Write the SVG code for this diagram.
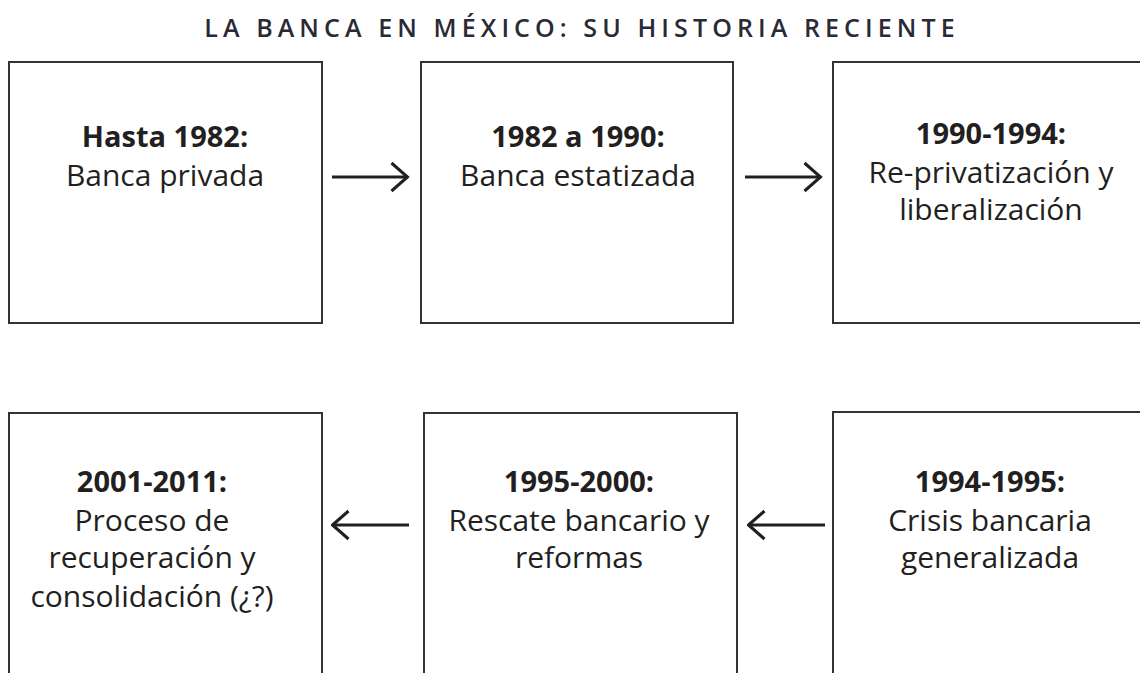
<svg xmlns="http://www.w3.org/2000/svg" width="1140" height="673" viewBox="0 0 1140 673">
<defs>
<style>
.box{fill:#fff;stroke:#333;stroke-width:2}
.t{font-family:"Open Sans","Liberation Sans",sans-serif;font-size:30px;font-weight:500;fill:#231f20;text-anchor:middle}
.b{font-weight:bold;font-size:29px}
.title{font-family:"Open Sans","Liberation Sans",sans-serif;font-size:25px;font-weight:600;fill:#2a2a35;letter-spacing:5.1px;text-anchor:middle}
.arr{stroke:#231f20;stroke-width:3;fill:none}
</style>
<marker id="ah" viewBox="0 0 20 32" refX="18.5" refY="16" markerWidth="20" markerHeight="32" markerUnits="userSpaceOnUse" orient="auto">
<path d="M2,2 L18,16 L2,30" fill="none" stroke="#231f20" stroke-width="3"/>
</marker>
</defs>
<rect width="1140" height="673" fill="#fff"/>
<text class="title" x="582" y="37">LA BANCA EN MÉXICO: SU HISTORIA RECIENTE</text>

<g id="n1">
<rect class="box" x="9" y="62" width="313" height="261"/>
<text class="t b" x="165" y="147">Hasta 1982:</text>
<text class="t" x="165" y="186">Banca privada</text>
</g>
<g id="n2">
<rect class="box" x="421" y="62" width="312" height="261"/>
<text class="t b" x="578" y="147">1982 a 1990:</text>
<text class="t" x="578" y="186">Banca estatizada</text>
</g>
<g id="n3">
<rect class="box" x="833" y="62" width="320" height="261"/>
<text class="t b" x="991" y="144">1990-1994:</text>
<text class="t" x="991" y="183">Re-privatización y</text>
<text class="t" x="991" y="220">liberalización</text>
</g>
<g id="n4">
<rect class="box" x="9" y="413" width="313" height="280"/>
<text class="t b" x="152" y="492">2001-2011:</text>
<text class="t" x="152" y="531">Proceso de</text>
<text class="t" x="152" y="568">recuperación y</text>
<text class="t" x="152" y="607">consolidación (¿?)</text>
</g>
<g id="n5">
<rect class="box" x="424" y="413" width="313" height="280"/>
<text class="t b" x="579" y="492">1995-2000:</text>
<text class="t" x="579" y="531">Rescate bancario y</text>
<text class="t" x="579" y="568">reformas</text>
</g>
<g id="n6">
<rect class="box" x="833" y="412" width="320" height="280"/>
<text class="t b" x="990" y="492">1994-1995:</text>
<text class="t" x="990" y="531">Crisis bancaria</text>
<text class="t" x="990" y="568">generalizada</text>
</g>

<g id="connectors">
<line class="arr" x1="332" y1="177" x2="408" y2="177" marker-end="url(#ah)"/>
<line class="arr" x1="745" y1="177" x2="821" y2="177" marker-end="url(#ah)"/>
<line class="arr" x1="825" y1="525" x2="748" y2="525" marker-end="url(#ah)"/>
<line class="arr" x1="409" y1="525" x2="332" y2="525" marker-end="url(#ah)"/>
</g>
</svg>
